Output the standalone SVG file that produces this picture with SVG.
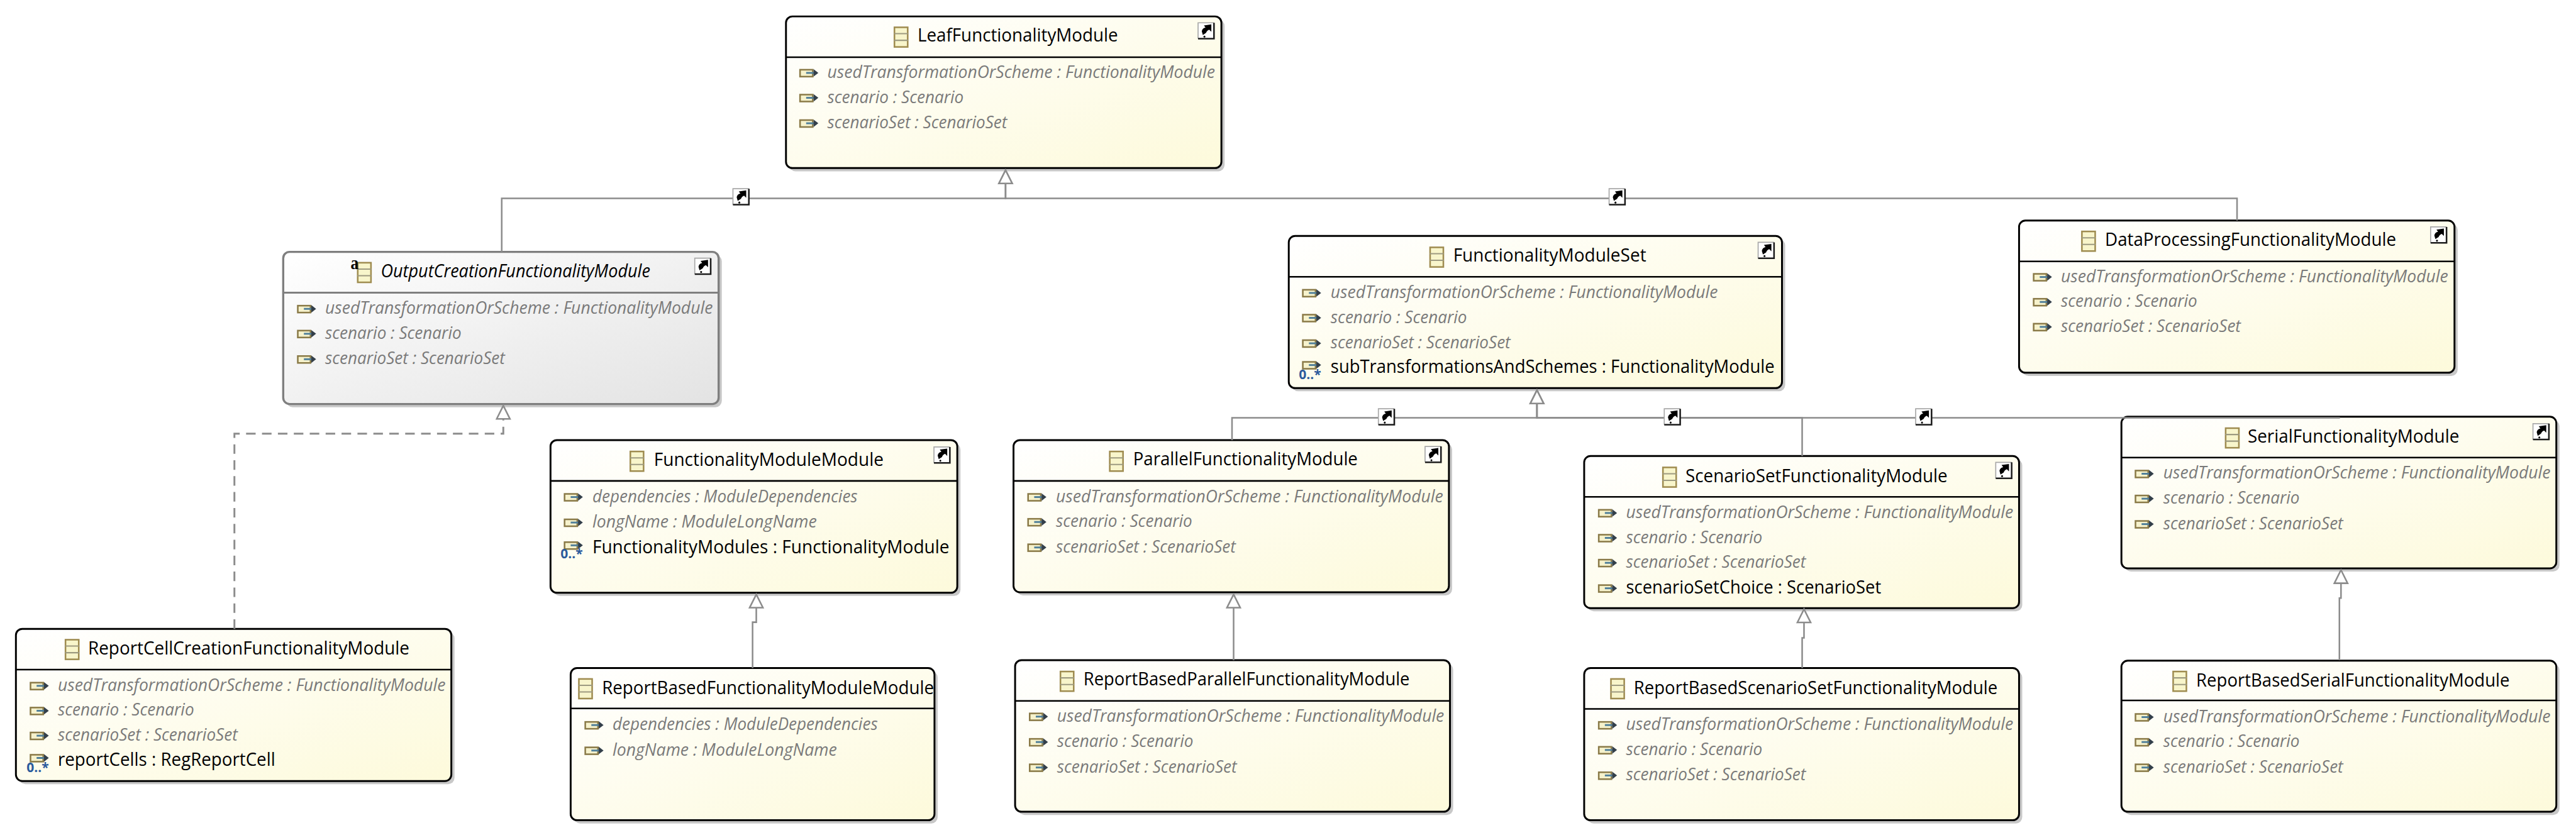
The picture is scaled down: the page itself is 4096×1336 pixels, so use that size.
<svg xmlns="http://www.w3.org/2000/svg" width="4096" height="1336" viewBox="0 0 4096 1336">
<style>
text{font-family:"Open Sans","Noto Sans","Liberation Sans",sans-serif;font-size:35px}
.t{fill:#000}
.i{fill:#000;font-style:italic}
.g{fill:#7a7a7a;font-style:italic;font-size:33px}
.a{fill:#000}
.m{fill:#2a5a9c;font-size:25px;font-weight:700}
.x{fill:#000;font-family:"Liberation Serif",serif;font-size:34px;font-weight:700}
.sh{fill:#c8c8c8;filter:url(#blur)}
.b{fill:url(#y);stroke:#000;stroke-width:3.5}
.bo{fill:url(#o);stroke:#7f7f7f;stroke-width:4}
.d{stroke:#000;stroke-width:3;fill:none}
.do{stroke:#7f7f7f;stroke-width:3.5;fill:none}
.c{fill:none;stroke:#8c8c8c;stroke-width:3;marker-end:url(#tri)}
.dash{stroke-width:3.5;stroke-dasharray:18 12}
</style>
<defs>
<filter id="blur" x="-2%" y="-2%" width="104%" height="104%"><feGaussianBlur stdDeviation="0.8"/></filter>
<linearGradient id="y" x1="0" y1="0" x2="1" y2="1"><stop offset="0" stop-color="#ffffff"/><stop offset="1" stop-color="#fdfadb"/></linearGradient>
<linearGradient id="o" x1="0" y1="0" x2="1" y2="1"><stop offset="0" stop-color="#ffffff"/><stop offset="1" stop-color="#e3e3e3"/></linearGradient>
<marker id="tri" markerUnits="userSpaceOnUse" markerWidth="30" markerHeight="32" viewBox="-2 -2 30 32" refX="25" refY="13" orient="auto"><polygon points="0,0.5 25,13 0,25.500" fill="#fff" stroke="#8c8c8c" stroke-width="3"/></marker>
<g id="ai">
<rect x="1.500" y="1.500" width="24" height="13" fill="#f6f2cc" stroke="#8a7a48" stroke-width="3"/>
<path d="M13 7.500H30" stroke="#4f7f9a" stroke-width="3.500"/>
<path d="M27 0.500L36 7.500L27 14.500Z" fill="#333f4a"/>
</g>
<g id="ti">
<rect x="1.500" y="1.500" width="25" height="37" fill="#f8f5cb" stroke="#9f8c50" stroke-width="3"/>
<path d="M1 13.500H27M1 26H27" stroke="#9d9a80" stroke-width="2.500"/>
</g>
<g id="pin">
<rect x="1" y="1" width="30" height="30" fill="#fff"/>
<path d="M1 31V1H31" fill="none" stroke="#a8a8a8" stroke-width="2"/>
<path d="M1 31H31V1" fill="none" stroke="#1c1c1c" stroke-width="3"/>
<path d="M10 24L8 17Q9 11 15 10L12 6L26 4L26 18L22 14Q18 15 16 20Z" fill="#000"/>
<circle cx="13" cy="27" r="1.800" fill="#000"/>
</g>
</defs>
<g transform="scale(0.8433)">
<rect width="4857" height="1584" fill="#fff"/>

<g id="LeafFunctionalityModule">
<rect class="sh" x="1488" y="37" width="821" height="286" rx="12"/>
<rect class="b" x="1482" y="31" width="821" height="286" rx="12"/>
<path class="d" d="M1482 108H2303"/>
<use href="#ti" x="1685" y="50"/>
<text class="t" x="1730" y="78" textLength="378" lengthAdjust="spacingAndGlyphs">LeafFunctionalityModule</text>
<use href="#pin" x="2258" y="42"/>
<use href="#ai" x="1507" y="130"/><text class="g" x="1560" y="147" textLength="731" lengthAdjust="spacingAndGlyphs">usedTransformationOrScheme : FunctionalityModule</text>
<use href="#ai" x="1507" y="177"/><text class="g" x="1560" y="194" textLength="257" lengthAdjust="spacingAndGlyphs">scenario : Scenario</text>
<use href="#ai" x="1507" y="225"/><text class="g" x="1560" y="242" textLength="339" lengthAdjust="spacingAndGlyphs">scenarioSet : ScenarioSet</text>
</g>

<g id="OutputCreationFunctionalityModule">
<rect class="sh" x="540" y="481" width="821" height="287" rx="12"/>
<rect class="bo" x="534" y="475" width="821" height="287" rx="12"/>
<path class="do" d="M534 552H1355"/>
<use href="#ti" x="673" y="494"/>
<text class="x" x="661" y="508" textLength="15" lengthAdjust="spacingAndGlyphs">a</text>
<text class="i" x="718" y="523" textLength="508" lengthAdjust="spacingAndGlyphs">OutputCreationFunctionalityModule</text>
<use href="#pin" x="1309" y="486"/>
<use href="#ai" x="560" y="575"/><text class="g" x="613" y="592" textLength="731" lengthAdjust="spacingAndGlyphs">usedTransformationOrScheme : FunctionalityModule</text>
<use href="#ai" x="560" y="622"/><text class="g" x="613" y="639" textLength="257" lengthAdjust="spacingAndGlyphs">scenario : Scenario</text>
<use href="#ai" x="560" y="670"/><text class="g" x="613" y="687" textLength="339" lengthAdjust="spacingAndGlyphs">scenarioSet : ScenarioSet</text>
</g>

<g id="ReportCellCreationFunctionalityModule">
<rect class="sh" x="36" y="1192" width="821" height="287" rx="12"/>
<rect class="b" x="30" y="1186" width="821" height="287" rx="12"/>
<path class="d" d="M30 1263H851"/>
<use href="#ti" x="122" y="1205"/>
<text class="t" x="166" y="1234" textLength="606" lengthAdjust="spacingAndGlyphs">ReportCellCreationFunctionalityModule</text>
<use href="#ai" x="56" y="1286"/><text class="g" x="109" y="1303" textLength="731" lengthAdjust="spacingAndGlyphs">usedTransformationOrScheme : FunctionalityModule</text>
<use href="#ai" x="56" y="1333"/><text class="g" x="109" y="1350" textLength="257" lengthAdjust="spacingAndGlyphs">scenario : Scenario</text>
<use href="#ai" x="56" y="1380"/><text class="g" x="109" y="1397" textLength="339" lengthAdjust="spacingAndGlyphs">scenarioSet : ScenarioSet</text>
<use href="#ai" x="56" y="1422"/><text class="m" x="50" y="1456" textLength="42" lengthAdjust="spacingAndGlyphs">0..*</text><text class="a" x="109" y="1444" textLength="410" lengthAdjust="spacingAndGlyphs">reportCells : RegReportCell</text>
</g>

<g id="FunctionalityModuleSet">
<rect class="sh" x="2436" y="451" width="930" height="287" rx="12"/>
<rect class="b" x="2430" y="445" width="930" height="287" rx="12"/>
<path class="d" d="M2430 522H3360"/>
<use href="#ti" x="2695" y="465"/>
<text class="t" x="2740" y="493" textLength="364" lengthAdjust="spacingAndGlyphs">FunctionalityModuleSet</text>
<use href="#pin" x="3314" y="456"/>
<use href="#ai" x="2455" y="545"/><text class="g" x="2509" y="562" textLength="730" lengthAdjust="spacingAndGlyphs">usedTransformationOrScheme : FunctionalityModule</text>
<use href="#ai" x="2455" y="592"/><text class="g" x="2509" y="609" textLength="257" lengthAdjust="spacingAndGlyphs">scenario : Scenario</text>
<use href="#ai" x="2455" y="640"/><text class="g" x="2509" y="657" textLength="339" lengthAdjust="spacingAndGlyphs">scenarioSet : ScenarioSet</text>
<use href="#ai" x="2455" y="681"/><text class="m" x="2449" y="715" textLength="42" lengthAdjust="spacingAndGlyphs">0..*</text><text class="a" x="2509" y="703" textLength="837" lengthAdjust="spacingAndGlyphs">subTransformationsAndSchemes : FunctionalityModule</text>
</g>

<g id="DataProcessingFunctionalityModule">
<rect class="sh" x="3813" y="422" width="821" height="287" rx="12"/>
<rect class="b" x="3807" y="416" width="821" height="287" rx="12"/>
<path class="d" d="M3807 493H4628"/>
<use href="#ti" x="3924" y="435"/>
<text class="t" x="3969" y="464" textLength="549" lengthAdjust="spacingAndGlyphs">DataProcessingFunctionalityModule</text>
<use href="#pin" x="4582" y="427"/>
<use href="#ai" x="3833" y="515"/><text class="g" x="3886" y="532" textLength="730" lengthAdjust="spacingAndGlyphs">usedTransformationOrScheme : FunctionalityModule</text>
<use href="#ai" x="3833" y="562"/><text class="g" x="3886" y="579" textLength="257" lengthAdjust="spacingAndGlyphs">scenario : Scenario</text>
<use href="#ai" x="3833" y="609"/><text class="g" x="3886" y="626" textLength="339" lengthAdjust="spacingAndGlyphs">scenarioSet : ScenarioSet</text>
</g>

<g id="FunctionalityModuleModule">
<rect class="sh" x="1044" y="836" width="767" height="288" rx="12"/>
<rect class="b" x="1038" y="830" width="767" height="288" rx="12"/>
<path class="d" d="M1038 907H1805"/>
<use href="#ti" x="1187" y="850"/>
<text class="t" x="1233" y="879" textLength="433" lengthAdjust="spacingAndGlyphs">FunctionalityModuleModule</text>
<use href="#pin" x="1760" y="842"/>
<use href="#ai" x="1063" y="930"/><text class="g" x="1117" y="947" textLength="500" lengthAdjust="spacingAndGlyphs">dependencies : ModuleDependencies</text>
<use href="#ai" x="1063" y="978"/><text class="g" x="1117" y="995" textLength="423" lengthAdjust="spacingAndGlyphs">longName : ModuleLongName</text>
<use href="#ai" x="1063" y="1021"/><text class="m" x="1057" y="1053" textLength="42" lengthAdjust="spacingAndGlyphs">0..*</text><text class="a" x="1117" y="1043" textLength="673" lengthAdjust="spacingAndGlyphs">FunctionalityModules : FunctionalityModule</text>
</g>

<g id="ReportBasedFunctionalityModuleModule">
<rect class="sh" x="1082" y="1266" width="686" height="287" rx="12"/>
<rect class="b" x="1076" y="1260" width="686" height="287" rx="12"/>
<path class="d" d="M1076 1336H1762"/>
<use href="#ti" x="1090" y="1279"/>
<text class="t" x="1135" y="1309" textLength="626" lengthAdjust="spacingAndGlyphs">ReportBasedFunctionalityModuleModule</text>
<use href="#ai" x="1102" y="1360"/><text class="g" x="1155" y="1377" textLength="500" lengthAdjust="spacingAndGlyphs">dependencies : ModuleDependencies</text>
<use href="#ai" x="1102" y="1408"/><text class="g" x="1155" y="1425" textLength="423" lengthAdjust="spacingAndGlyphs">longName : ModuleLongName</text>
</g>

<g id="ParallelFunctionalityModule">
<rect class="sh" x="1917" y="836" width="821" height="287" rx="12"/>
<rect class="b" x="1911" y="830" width="821" height="287" rx="12"/>
<path class="d" d="M1911 907H2732"/>
<use href="#ti" x="2091" y="850"/>
<text class="t" x="2136.500" y="878" textLength="423.500" lengthAdjust="spacingAndGlyphs">ParallelFunctionalityModule</text>
<use href="#pin" x="2686" y="841"/>
<use href="#ai" x="1937" y="930"/><text class="g" x="1991" y="947" textLength="730" lengthAdjust="spacingAndGlyphs">usedTransformationOrScheme : FunctionalityModule</text>
<use href="#ai" x="1937" y="977"/><text class="g" x="1991" y="994" textLength="257" lengthAdjust="spacingAndGlyphs">scenario : Scenario</text>
<use href="#ai" x="1937" y="1025"/><text class="g" x="1991" y="1042" textLength="339" lengthAdjust="spacingAndGlyphs">scenarioSet : ScenarioSet</text>
</g>

<g id="ReportBasedParallelFunctionalityModule">
<rect class="sh" x="1920" y="1251" width="820" height="286" rx="12"/>
<rect class="b" x="1914" y="1245" width="820" height="286" rx="12"/>
<path class="d" d="M1914 1322H2734"/>
<use href="#ti" x="1998" y="1265"/>
<text class="t" x="2043" y="1293" textLength="615" lengthAdjust="spacingAndGlyphs">ReportBasedParallelFunctionalityModule</text>
<use href="#ai" x="1940" y="1344"/><text class="g" x="1993" y="1361" textLength="730" lengthAdjust="spacingAndGlyphs">usedTransformationOrScheme : FunctionalityModule</text>
<use href="#ai" x="1940" y="1392"/><text class="g" x="1993" y="1409" textLength="257" lengthAdjust="spacingAndGlyphs">scenario : Scenario</text>
<use href="#ai" x="1940" y="1440"/><text class="g" x="1993" y="1457" textLength="339" lengthAdjust="spacingAndGlyphs">scenarioSet : ScenarioSet</text>
</g>

<g id="ScenarioSetFunctionalityModule">
<rect class="sh" x="2993" y="866" width="820" height="287" rx="12"/>
<rect class="b" x="2987" y="860" width="820" height="287" rx="12"/>
<path class="d" d="M2987 937H3807"/>
<use href="#ti" x="3134" y="880"/>
<text class="t" x="3178" y="909" textLength="494" lengthAdjust="spacingAndGlyphs">ScenarioSetFunctionalityModule</text>
<use href="#pin" x="3762" y="871"/>
<use href="#ai" x="3013" y="960"/><text class="g" x="3066" y="977" textLength="730" lengthAdjust="spacingAndGlyphs">usedTransformationOrScheme : FunctionalityModule</text>
<use href="#ai" x="3013" y="1007"/><text class="g" x="3066" y="1024" textLength="257" lengthAdjust="spacingAndGlyphs">scenario : Scenario</text>
<use href="#ai" x="3013" y="1054"/><text class="g" x="3066" y="1071" textLength="339" lengthAdjust="spacingAndGlyphs">scenarioSet : ScenarioSet</text>
<use href="#ai" x="3013" y="1102"/><text class="a" x="3066" y="1119" textLength="481" lengthAdjust="spacingAndGlyphs">scenarioSetChoice : ScenarioSet</text>
</g>

<g id="ReportBasedScenarioSetFunctionalityModule">
<rect class="sh" x="2993" y="1266" width="820" height="287" rx="12"/>
<rect class="b" x="2987" y="1260" width="820" height="287" rx="12"/>
<path class="d" d="M2987 1337H3807"/>
<use href="#ti" x="3036" y="1279"/>
<text class="t" x="3080.500" y="1309" textLength="686" lengthAdjust="spacingAndGlyphs">ReportBasedScenarioSetFunctionalityModule</text>
<use href="#ai" x="3013" y="1360"/><text class="g" x="3066" y="1377" textLength="730" lengthAdjust="spacingAndGlyphs">usedTransformationOrScheme : FunctionalityModule</text>
<use href="#ai" x="3013" y="1407"/><text class="g" x="3066" y="1424" textLength="257" lengthAdjust="spacingAndGlyphs">scenario : Scenario</text>
<use href="#ai" x="3013" y="1455"/><text class="g" x="3066" y="1472" textLength="339" lengthAdjust="spacingAndGlyphs">scenarioSet : ScenarioSet</text>
</g>

<g id="SerialFunctionalityModule">
<rect class="sh" x="4006" y="792" width="820" height="286" rx="12"/>
<rect class="b" x="4000" y="786" width="820" height="286" rx="12"/>
<path class="d" d="M4000 863H4820"/>
<use href="#ti" x="4195" y="806"/>
<text class="t" x="4238" y="835" textLength="399" lengthAdjust="spacingAndGlyphs">SerialFunctionalityModule</text>
<use href="#pin" x="4775" y="798"/>
<use href="#ai" x="4025" y="886"/><text class="g" x="4079" y="903" textLength="730" lengthAdjust="spacingAndGlyphs">usedTransformationOrScheme : FunctionalityModule</text>
<use href="#ai" x="4025" y="933"/><text class="g" x="4079" y="950" textLength="257" lengthAdjust="spacingAndGlyphs">scenario : Scenario</text>
<use href="#ai" x="4025" y="981"/><text class="g" x="4079" y="998" textLength="339" lengthAdjust="spacingAndGlyphs">scenarioSet : ScenarioSet</text>
</g>

<g id="ReportBasedSerialFunctionalityModule">
<rect class="sh" x="4006" y="1252" width="820" height="285" rx="12"/>
<rect class="b" x="4000" y="1246" width="820" height="285" rx="12"/>
<path class="d" d="M4000 1321H4820"/>
<use href="#ti" x="4096" y="1265"/>
<text class="t" x="4141" y="1295" textLength="591" lengthAdjust="spacingAndGlyphs">ReportBasedSerialFunctionalityModule</text>
<use href="#ai" x="4025" y="1345"/><text class="g" x="4079" y="1362" textLength="730" lengthAdjust="spacingAndGlyphs">usedTransformationOrScheme : FunctionalityModule</text>
<use href="#ai" x="4025" y="1392"/><text class="g" x="4079" y="1409" textLength="257" lengthAdjust="spacingAndGlyphs">scenario : Scenario</text>
<use href="#ai" x="4025" y="1440"/><text class="g" x="4079" y="1457" textLength="339" lengthAdjust="spacingAndGlyphs">scenarioSet : ScenarioSet</text>
</g>

<g id="connectors">
<path class="c" d="M946 475V374H1896V321"/>
<path class="c" d="M4218 416V374H1896V321"/>
<path class="c dash" d="M442 1186V818H949V765"/>
<path class="c" d="M2323 830V788H2898V736"/>
<path class="c" d="M3398 860V788H2898V736"/>
<path class="c" d="M4412 788H2898V736"/>
<path class="c" d="M1419 1260V1173.500H1426V1121"/>
<path class="c" d="M2326 1245V1121"/>
<path class="c" d="M3398 1260V1203H3401.500V1149"/>
<path class="c" d="M4411 1245V1128H4414V1075"/>
<use href="#pin" x="1381" y="355"/>
<use href="#pin" x="3033" y="355"/>
<use href="#pin" x="2598" y="770"/>
<use href="#pin" x="3137" y="770"/>
<use href="#pin" x="3611" y="770"/>
</g>
</g>
</svg>
